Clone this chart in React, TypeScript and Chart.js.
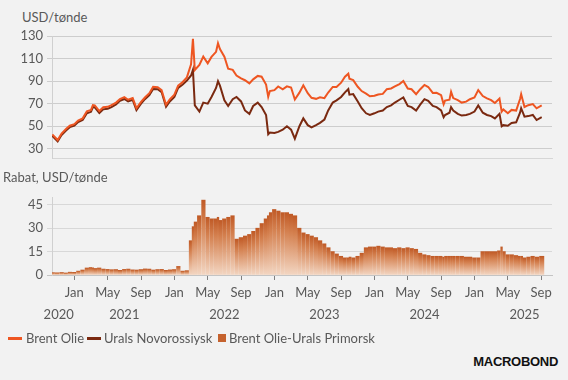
import React, { useEffect, useRef } from "react";
import { Chart, registerables } from "chart.js";
Chart.register(...registerables);

// ---------- DATA ----------
const dates = [
  "2020-10-12","2020-11-01","2020-11-15","2020-12-01","2020-12-15",
  "2021-01-01","2021-01-15","2021-02-01","2021-02-15","2021-03-01","2021-03-08","2021-03-15","2021-04-01","2021-04-15",
  "2021-05-01","2021-05-15","2021-06-01","2021-06-15","2021-07-01","2021-07-15","2021-08-01","2021-08-15",
  "2021-09-01","2021-09-15","2021-10-01","2021-10-15","2021-11-01","2021-11-15","2021-12-01","2021-12-15",
  "2022-01-01","2022-01-15","2022-02-01","2022-02-15","2022-03-01","2022-03-08","2022-03-15","2022-04-01","2022-04-15",
  "2022-05-01","2022-05-15","2022-06-01","2022-06-08","2022-06-15","2022-07-01","2022-07-15","2022-08-01","2022-08-15",
  "2022-09-01","2022-09-15","2022-10-01","2022-10-15","2022-11-01","2022-11-15","2022-12-01","2022-12-09","2022-12-15",
  "2023-01-01","2023-01-15","2023-02-01","2023-02-15","2023-03-01","2023-03-15","2023-04-01","2023-04-15",
  "2023-05-01","2023-05-15","2023-06-01","2023-06-15","2023-07-01","2023-07-15","2023-08-01","2023-08-15",
  "2023-09-01","2023-09-15","2023-09-27","2023-10-01","2023-10-15","2023-11-01","2023-11-15","2023-12-01","2023-12-15",
  "2024-01-01","2024-01-15","2024-02-01","2024-02-15","2024-03-01","2024-03-15","2024-04-01","2024-04-15",
  "2024-05-01","2024-05-15","2024-06-01","2024-06-15","2024-07-01","2024-07-15","2024-08-01","2024-08-15",
  "2024-09-01","2024-09-10","2024-09-15","2024-10-01","2024-10-07","2024-10-15","2024-11-01","2024-11-15","2024-12-01","2024-12-15",
  "2025-01-01","2025-01-15","2025-02-01","2025-02-15","2025-03-01","2025-03-15","2025-04-01","2025-04-09","2025-04-15",
  "2025-05-01","2025-05-15","2025-06-01","2025-06-15","2025-06-19","2025-07-01","2025-07-15","2025-08-01","2025-08-15","2025-09-03",
];

const brent = [
  42.8, 37.8, 43.5, 47.5, 50.5,
  51.8, 55.0, 57.0, 63.3, 64.5, 68.8, 68.5, 63.5, 66.8,
  67.2, 68.7, 71.0, 74.0, 75.8, 73.5, 75.0, 66.0,
  71.6, 75.5, 79.3, 84.9, 84.7, 82.0, 69.0, 73.9,
  78.0, 86.0, 89.2, 93.3, 105.0, 127.5, 99.9, 104.4, 111.7,
  105.8, 111.5, 116.0, 123.6, 118.5, 111.6, 101.0, 100.0, 95.0,
  92.4, 90.8, 88.0, 91.6, 94.6, 93.9, 87.0, 76.1, 81.2,
  82.0, 85.3, 82.8, 85.4, 84.3, 73.7, 79.8, 86.3,
  79.3, 75.2, 74.3, 75.7, 74.9, 79.9, 84.9, 84.9,
  88.6, 93.9, 96.6, 92.2, 90.9, 85.0, 81.2, 78.9, 76.6,
  77.0, 78.2, 78.7, 82.9, 83.5, 85.3, 87.4, 90.1,
  83.4, 82.8, 78.4, 82.6, 86.6, 84.8, 79.5, 79.7,
  77.5, 69.5, 72.8, 73.6, 80.5, 75.0, 73.1, 71.0, 71.8, 74.0,
  75.5, 82.0, 76.8, 74.7, 73.2, 70.6, 74.5, 63.0, 64.9,
  61.5, 64.5, 63.9, 74.2, 78.5, 67.1, 68.7, 69.7, 65.9, 68.5,
];

const urals = [
  41.5, 36.6, 42.2, 46.3, 49.2,
  50.5, 53.8, 55.5, 61.5, 62.8, 67.0, 66.8, 61.8, 65.0,
  65.6, 67.0, 69.3, 72.5, 74.2, 72.0, 73.4, 64.3,
  70.0, 74.0, 77.6, 83.0, 82.8, 80.3, 67.3, 72.0,
  76.0, 84.0, 87.0, 90.5, 95.0, 100.0, 68.5, 63.0, 71.0,
  70.0, 76.0, 84.0, 90.0, 86.0, 73.0, 68.0, 74.0, 76.0,
  72.0, 64.0, 61.0, 68.0, 71.0, 67.0, 60.0, 43.0, 44.5,
  44.0, 45.0, 47.0, 50.0, 47.0, 39.0, 50.0, 57.0,
  51.0, 49.0, 51.0, 53.0, 56.0, 64.0, 71.0, 73.0,
  76.0, 80.0, 83.0, 78.0, 78.5, 72.0, 66.0, 61.5, 60.0,
  61.5, 63.0, 64.0, 67.0, 68.5, 71.0, 73.5, 75.5,
  68.0, 67.0, 64.0, 69.0, 74.0, 72.5, 68.0, 67.0,
  64.0, 58.0, 60.0, 62.0, 67.0, 64.0, 61.0, 59.5, 60.0, 61.0,
  63.0, 68.5, 62.0, 60.0, 59.0, 57.0, 61.0, 50.0, 51.0,
  50.5, 53.0, 53.5, 62.0, 66.0, 58.5, 59.0, 60.0, 55.5, 58.0,
];

const discount = [
  1.5, 1.4, 1.6, 1.3, 1.8,
  1.7, 2.5, 3.2, 4.5, 4.8, 4.6, 4.2, 4.5, 3.8,
  3.6, 3.4, 3.5, 3.0, 3.6, 3.8, 3.3, 3.2,
  3.5, 3.9, 3.8, 3.2, 3.5, 3.6, 3.0, 3.3,
  3.5, 5.5, 2.5, 2.8, 22.0, 31.0, 34.0, 38.0, 48.0,
  37.0, 36.0, 36.0, 37.0, 35.0, 36.0, 37.0, 38.0, 23.0,
  24.0, 25.0, 26.0, 28.0, 30.0, 33.0, 36.0, 38.0, 40.0,
  42.0, 41.0, 40.0, 40.0, 39.0, 38.0, 30.0, 27.0,
  26.0, 25.0, 24.0, 22.0, 20.0, 17.5, 15.0, 13.5,
  12.0, 11.0, 11.0, 11.5, 11.0, 12.0, 14.0, 17.5, 18.0,
  18.0, 18.5, 18.0, 17.5, 17.5, 17.0, 17.5, 17.0,
  17.5, 17.0, 16.5, 14.0, 13.0, 12.5, 12.0, 12.0,
  12.0, 11.5, 12.0, 12.0, 12.0, 12.0, 12.0, 12.0, 11.5, 11.5,
  11.0, 11.0, 15.0, 15.0, 15.0, 15.0, 15.5, 18.0, 15.0,
  13.0, 13.0, 12.5, 12.0, 12.0, 11.0, 11.5, 12.0, 11.5, 12.0,
];

const monthTicks = [
  "2021-01-01","2021-05-01","2021-09-01","2022-01-01","2022-05-01","2022-09-01",
  "2023-01-01","2023-05-01","2023-09-01","2024-01-01","2024-05-01","2024-09-01",
  "2025-01-01","2025-05-01","2025-09-01",
];
const monthNames = ["Jan","","","","May","","","","Sep","","",""];
const years = ["2020","2021","2022","2023","2024","2025"];
const topTicks = [30,40,50,60,70,80,90,100,110,120,130];
const topLabels = [30,50,70,90,110,130];
const botTicks = [0,5,10,15,20,25,30,35,40,45,50];
const botLabels = [0,15,30,45];

// ---------- helpers ----------
function toM(d: string): number {
  const [y, m, day] = d.split("-").map(Number);
  const dim = new Date(y, m, 0).getDate();
  return (y - 2020) * 12 + (m - 1) + (day - 1) / dim;
}
const X_MIN = 9.32;
const X_MAX = 69.3;
const FONT = "Lato";
const TXT = "#595959";
const C_BRENT = "#ee5622";
const C_URALS = "#7a2910";
const C_BAR = "#c5622e";

Chart.defaults.font.family = FONT;

const yAxisW = (s: any) => { s.width = 52; };

export default function App() {
  const topRef = useRef<HTMLCanvasElement>(null);
  const botRef = useRef<HTMLCanvasElement>(null);

  useEffect(() => {
    const xs = dates.map(toM);
    const top = new Chart(topRef.current!, {
      type: "line",
      data: {
        datasets: [
          { label: "Brent Olie", data: xs.map((x, i) => ({ x, y: brent[i] })), borderColor: C_BRENT, borderWidth: 2, pointRadius: 0, tension: 0 },
          { label: "Urals Novorossiysk", data: xs.map((x, i) => ({ x, y: urals[i] })), borderColor: C_URALS, borderWidth: 2, pointRadius: 0, tension: 0 },
        ],
      },
      options: {
        responsive: false,
        animation: false,
        layout: { padding: { left: 0, right: 16, top: 36, bottom: 7 } },
        plugins: { legend: { display: false }, tooltip: { enabled: false } },
        scales: {
          x: {
            type: "linear", min: X_MIN, max: X_MAX,
            ticks: { display: false },
            grid: { display: false, drawTicks: false },
            border: { display: true, color: "#d6d6d6" },
            afterFit: (s: any) => { s.height = 0; },
          },
          y: {
            min: 21.7, max: 130,
            afterBuildTicks: (s: any) => { s.ticks = topTicks.map((v) => ({ value: v })); },
            ticks: {
              font: { family: FONT, size: 13 }, color: TXT, padding: 4,
              callback: (v: any) => (topLabels.includes(Number(v)) ? String(v) : ""),
            },
            grid: {
              color: (c: any) => (topLabels.includes(c.tick?.value) ? "#cdcdcd" : "#dfdfdf"),
              tickLength: 5,
            },
            border: { display: true, color: "#d0d0d0" },
            afterFit: yAxisW,
          },
        },
      },
    });

    const bot = new Chart(botRef.current!, {
      type: "bar",
      data: {
        datasets: [
          {
            label: "Brent Olie-Urals Primorsk",
            data: xs.map((x, i) => ({ x, y: discount[i] })),
            barPercentage: 0.85,
            categoryPercentage: 1,
            barThickness: "flex",
            backgroundColor: (ctx: any) => {
              const chart = ctx.chart;
              const { chartArea, scales } = chart;
              if (!chartArea || ctx.type !== "data" || !scales.y) return C_BAR;
              const v = ctx.parsed?.y ?? 0;
              const yT = scales.y.getPixelForValue(v);
              const yB = scales.y.getPixelForValue(0);
              if (yB - yT < 2) return C_BAR;
              const g = chart.ctx.createLinearGradient(0, yT, 0, yB);
              g.addColorStop(0, "#c05a26");
              g.addColorStop(0.3, "#d4804f");
              g.addColorStop(1, "#f3d6c2");
              return g;
            },
          } as any,
        ],
      },
      options: {
        responsive: false,
        animation: false,
        layout: { padding: { left: 0, right: 16, top: 17, bottom: 0 } },
        plugins: { legend: { display: false }, tooltip: { enabled: false } },
        scales: {
          x: {
            type: "linear", min: X_MIN, max: X_MAX, position: "bottom", offset: false,
            afterBuildTicks: (s: any) => { s.ticks = monthTicks.map((d) => ({ value: toM(d) })); },
            ticks: {
              font: { family: FONT, size: 13 }, color: TXT, padding: 5, maxRotation: 0, autoSkip: false,
              callback: (v: any) => monthNames[Math.round(Number(v)) % 12],
            },
            grid: { display: true, offset: false, drawOnChartArea: false, drawTicks: true, tickLength: 5, color: "#7f7f7f", lineWidth: 1 },
            border: { display: true, color: "#c4c4c4" },
            afterFit: (s: any) => { s.height = 30; },
          },
          x2: {
            type: "linear", min: X_MIN, max: X_MAX, position: "bottom", offset: false,
            afterBuildTicks: (s: any) => {
              s.ticks = years.map((y) => ({ value: Math.max((Number(y) - 2020) * 12 + 6, X_MIN + 0.8) }));
            },
            ticks: {
              font: { family: FONT, size: 13 }, color: TXT, padding: 2, maxRotation: 0, autoSkip: false,
              callback: (_v: any, i: number) => years[i],
            },
            grid: { display: false, offset: false, drawTicks: false },
            border: { display: false },
            afterFit: (s: any) => { s.height = 22; },
          },
          y: {
            min: 0, max: 50,
            afterBuildTicks: (s: any) => { s.ticks = botTicks.map((v) => ({ value: v })); },
            ticks: {
              font: { family: FONT, size: 13 }, color: TXT, padding: 4,
              callback: (v: any) => (botLabels.includes(Number(v)) ? String(v) : ""),
            },
            grid: {
              color: (c: any) => (c.tick?.value === 0 ? "#c4c4c4" : "#d8d8d8"),
              tickLength: 5,
            },
            border: { display: true, color: "#d0d0d0" },
            afterFit: yAxisW,
          },
        },
      },
    });

    return () => { top.destroy(); bot.destroy(); };
  }, []);

  const txt: React.CSSProperties = { position: "absolute", fontFamily: FONT, fontSize: 13, color: TXT, lineHeight: "16px", whiteSpace: "nowrap" };

  return (
    <div style={{ position: "fixed", left: 0, top: 0, width: 568, height: 380, background: "#f2f2f2", overflow: "hidden" }}>
      <div style={{ ...txt, left: 22, top: 9 }}>USD/tønde</div>
      <canvas ref={topRef} width={568} height={170} style={{ position: "absolute", left: 0, top: 0, width: 568, height: 170 }} />
      <div style={{ ...txt, left: 3, top: 169 }}>Rabat, USD/tønde</div>
      <canvas ref={botRef} width={568} height={147} style={{ position: "absolute", left: 0, top: 180, width: 568, height: 147 }} />
      <div style={{ position: "absolute", left: 8, top: 337, width: 14, height: 2.5, background: C_BRENT }} />
      <div style={{ ...txt, left: 26, top: 330 }}>Brent Olie</div>
      <div style={{ position: "absolute", left: 87, top: 337, width: 14, height: 2.5, background: C_URALS }} />
      <div style={{ ...txt, left: 104, top: 330 }}>Urals Novorossiysk</div>
      <div style={{ position: "absolute", left: 218, top: 334, width: 8, height: 8, background: C_BAR }} />
      <div style={{ ...txt, left: 229, top: 330 }}>Brent Olie-Urals Primorsk</div>
      <div style={{ position: "absolute", right: 10, top: 354, fontFamily: "Liberation Sans", fontWeight: 900, fontSize: 13, color: "#111", letterSpacing: -0.3, lineHeight: "16px" }}>MACROBOND</div>
    </div>
  );
}
